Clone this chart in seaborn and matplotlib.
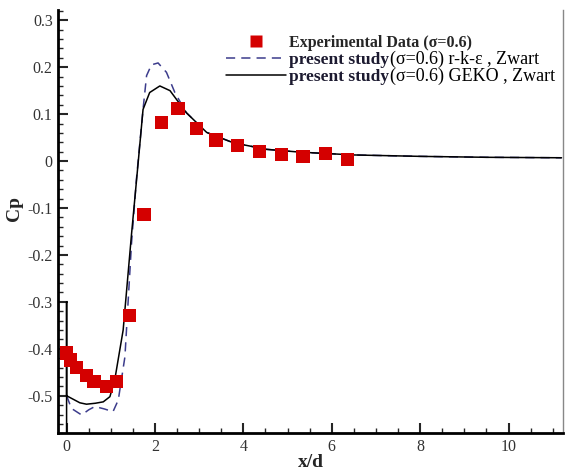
import numpy as np
import pandas as pd
import seaborn as sns
import matplotlib
matplotlib.use("Agg")
import matplotlib.pyplot as plt
from matplotlib.ticker import MultipleLocator, FuncFormatter
from matplotlib.lines import Line2D

# ---- data ----
exp_x = [0.0, 0.08, 0.23, 0.45, 0.62, 0.90, 1.13, 1.43, 1.75, 2.15, 2.52, 2.94, 3.38, 3.87, 4.37, 4.86, 5.35, 5.85, 6.35]
exp_cp = [-0.409, -0.424, -0.440, -0.457, -0.469, -0.480, -0.470, -0.329, -0.114, 0.083, 0.112, 0.069, 0.045, 0.034, 0.021, 0.014, 0.010, 0.016, 0.004]

rke_x = [0.0, 0.11, 0.34, 0.50, 0.64, 0.85, 1.05, 1.17, 1.32, 1.47, 1.58, 1.73, 1.81, 1.92, 2.07, 2.26, 2.45, 2.71, 3.17, 3.77, 4.52, 5.28, 6.5, 8.0, 9.5, 11.2]
rke_cp = [-0.500, -0.527, -0.541, -0.530, -0.523, -0.528, -0.534, -0.509, -0.417, -0.174, -0.039, 0.110, 0.182, 0.205, 0.209, 0.189, 0.146, 0.103, 0.061, 0.039, 0.025, 0.019, 0.013, 0.010, 0.008, 0.007]

geko_x = [0.0, 0.0, 0.0, 0.10, 0.30, 0.45, 0.65, 0.83, 0.98, 1.09, 1.28, 1.47, 1.62, 1.73, 1.88, 2.11, 2.34, 2.71, 3.17, 3.77, 4.52, 5.28, 6.5, 8.0, 9.5, 11.2]
geko_cp = [-0.60, -0.30, -0.500, -0.505, -0.515, -0.518, -0.516, -0.513, -0.502, -0.466, -0.360, -0.155, -0.003, 0.110, 0.146, 0.160, 0.150, 0.103, 0.061, 0.039, 0.025, 0.019, 0.013, 0.010, 0.008, 0.007]

xticks = [0, 2, 4, 6, 8, 10]
yticks = [-0.5, -0.4, -0.3, -0.2, -0.1, 0.0, 0.1, 0.2, 0.3]

exp_df = pd.DataFrame({"x": exp_x, "cp": exp_cp})
rke_df = pd.DataFrame({"x": rke_x, "cp": rke_cp})
geko_df = pd.DataFrame({"x": geko_x, "cp": geko_cp})

sns.set_style("white")
plt.rcParams["font.family"] = ["Liberation Serif", "DejaVu Serif"]

fig = plt.figure(figsize=(5.65, 4.72), dpi=100)
ax = fig.add_axes([0.103, 0.082, 0.894, 0.897])

red = "#d40000"
dash_col = "#3c3c8c"

sns.lineplot(data=rke_df, x="x", y="cp", sort=False, ax=ax, color=dash_col,
             linewidth=1.1, estimator=None)
ax.lines[-1].set_dashes([6, 4])
sns.lineplot(data=geko_df, x="x", y="cp", sort=False, ax=ax, color="black",
             linewidth=1.1, estimator=None)
sns.scatterplot(data=exp_df, x="x", y="cp", ax=ax, marker="s", s=90,
                color=red, edgecolor="none", zorder=5)

ax.set_xlim(-0.19, 11.24)
ax.set_ylim(-0.58, 0.322)
ax.set_xticks(xticks)
ax.set_yticks(yticks)
ax.xaxis.set_minor_locator(MultipleLocator(0.5))
ax.yaxis.set_minor_locator(MultipleLocator(0.02))
ax.yaxis.set_major_formatter(FuncFormatter(lambda v, p: "0" if abs(v) < 1e-9 else f"{v:.1f}"))

ax.tick_params(which="major", direction="in", length=7, width=1.5, labelsize=11.5,
               labelcolor="#333333", pad=4)
ax.tick_params(which="minor", direction="in", length=3.5, width=1.0)
ax.tick_params(axis="y", which="both", left=True, right=False)
ax.tick_params(axis="x", which="both", bottom=True, top=False)

for s in ["left", "bottom"]:
    ax.spines[s].set_linewidth(2)
    ax.spines[s].set_color("black")
ax.spines["top"].set_visible(False)
ax.spines["right"].set_color("#888888")
ax.spines["right"].set_linewidth(1)

ax.set_xlabel("x/d", fontsize=14, fontweight="bold")
ax.set_ylabel("Cp", fontsize=14, fontweight="bold")
ax.xaxis.set_label_coords(0.5, -0.05)
ax.yaxis.set_label_coords(-0.07, 0.53)

handles = [
    Line2D([], [], linestyle="none", marker="s", markersize=9, color=red, markeredgecolor="none"),
    Line2D([], [], color=dash_col, linewidth=1.1, dashes=[6, 4]),
    Line2D([], [], color="black", linewidth=1.1),
]
labels = ["Experimental Data (σ=0.6)", "present study", "present study"]
leg = ax.legend(handles, labels, loc="upper left", bbox_to_anchor=(0.309, 0.968),
                frameon=False, fontsize=12, handlelength=3.6, handletextpad=0.2,
                labelspacing=0.05, borderpad=0.2)
texts = leg.get_texts()
texts[0].set_fontsize(11.5)
texts[0].set_fontweight("bold")
for t in texts[1:]:
    t.set_fontweight("bold")
    t.set_fontsize(12.5)
    t.set_color("#1c1a30")

fig.canvas.draw()
renderer = fig.canvas.get_renderer()
suffixes = ["(σ=0.6) r-k-ε , Zwart", "(σ=0.6) GEKO , Zwart"]
for t, suf in zip(texts[1:], suffixes):
    bb = t.get_window_extent(renderer)
    fpx = 12.5 * 100 / 72
    xb = bb.x1 + 1
    yb = bb.y0 + 0.23 * fpx
    fig.text(xb / fig.bbox.width, yb / fig.bbox.height, suf, fontsize=13,
             va="baseline", ha="left", color="black")

fig.savefig("out.png", dpi=100)
